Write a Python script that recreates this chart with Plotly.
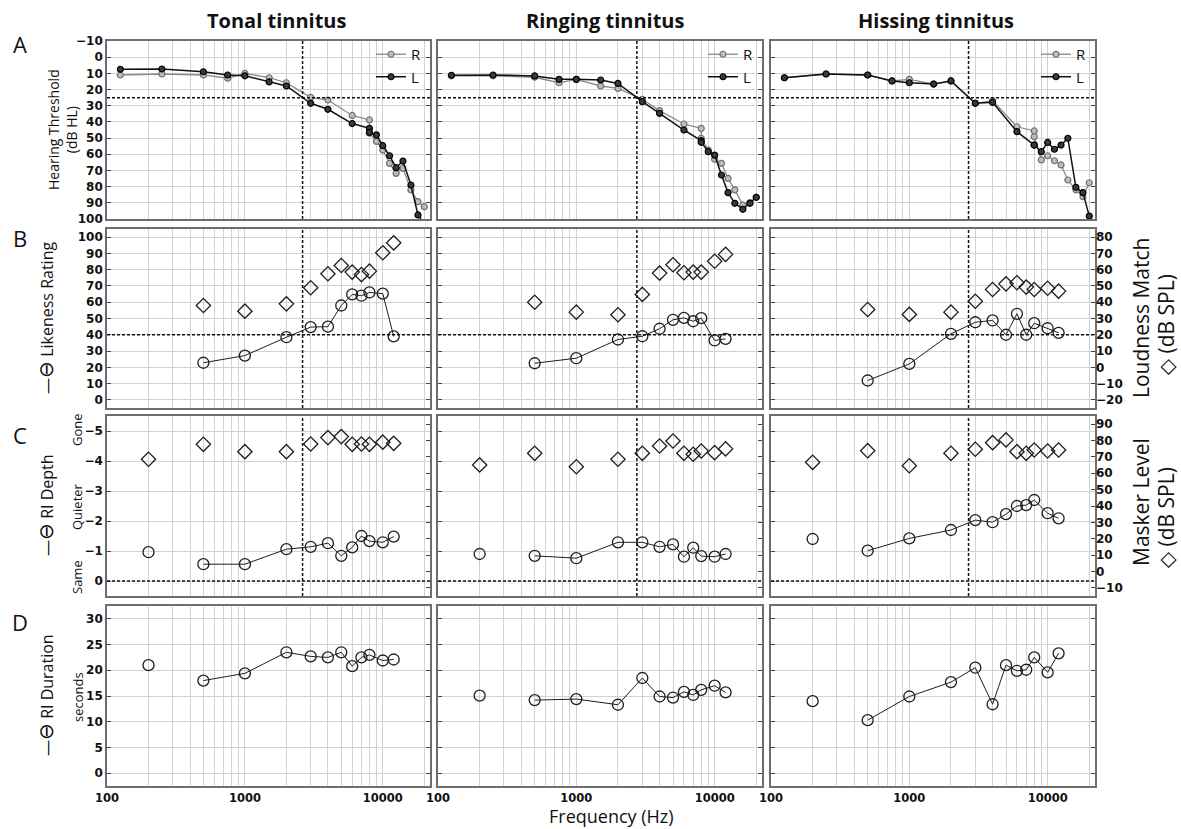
import math
import plotly.graph_objects as go

W, H = 1181, 829

# ---------------- data ----------------
col_titles = ["Tonal tinnitus", "Ringing tinnitus", "Hissing tinnitus"]

# Panel A: audiogram (standard + extended high frequency; 8000 Hz measured twice)
freq_audio = [125, 250, 500, 750, 1000, 1500, 2000, 3000, 4000, 6000,
              8000, 8000, 9000, 10000, 11200, 12500, 14000, 16000, 18000, 20000]
tonal_R = [11, 10.4, 11, 13, 10, 12.7, 15.8, 24.8, 26.5, 36,
           38.8, 47, 52, 57.4, 65.6, 71.8, 68.7, 82, 89.3, 92.4]
tonal_L = [7.5, 7.3, 9, 11, 11.5, 15.3, 17.8, 28.5, 32.2, 41,
           44, 46.5, 48, 54.7, 60.9, 68.3, 64.2, 79, 97.5, 103]
ringing_R = [11.5, 11.5, 12.4, 15.8, 13.7, 17.8, 19.3, 26, 33, 41.3,
             44, 50.1, 57.4, 63, 65.6, 74.9, 82, 91.4, 89.8, 86.6]
ringing_L = [11.2, 11, 11.6, 13.7, 13.7, 14.1, 16.2, 27.5, 34.7, 45,
             51.6, 52.6, 58.4, 60.5, 72.8, 83.7, 90.3, 94, 90.3, 86.6]
hissing_R = [12.7, 10.4, 11, 14.7, 13.7, 16.6, 14.7, 28.5, 26.9, 43,
             45.6, 49.1, 63.5, 60.9, 64, 66.6, 75.9, 82, 86.2, 77.6]
hissing_L = [12.7, 10.4, 11, 14.7, 15.8, 16.6, 14.7, 28.5, 27.9, 46,
             54.3, 54.3, 58.4, 52.7, 56.9, 54.3, 50.1, 80.4, 83.7, 98.2]

# Panels B-D: masker frequencies
freq_mask = [500, 1000, 2000, 3000, 4000, 5000, 6000, 7000, 8000, 10000, 12000]
freq_low = [200]   # isolated low-frequency masker (panels C, D)

# B: likeness rating (circles, left axis) and loudness match dB SPL (diamonds, right axis)
likeness = [
    [22.8, 27.2, 38.5, 44.7, 45, 58, 64.8, 64, 66, 65.3, 39],
    [22.5, 25.6, 37.1, 39.1, 43.7, 49.2, 50.4, 48.3, 50.2, 36.5, 37.5],
    [11.9, 22.1, 40.6, 47.7, 48.8, 40, 52.9, 40, 47.1, 44, 41.2],
]
loudness = [
    [38, 34.5, 39, 48.9, 57.5, 62.6, 58.5, 57, 59.1, 70.4, 76.5],
    [40, 33.9, 32.3, 44.8, 57.9, 63, 58.1, 58.5, 58.5, 65.2, 69.4],
    [35.5, 32.5, 33.9, 40.6, 47.8, 51.3, 52, 49.3, 47.8, 48.6, 46.8],
]

# C: residual inhibition depth (circles) and masker level dB SPL (diamonds)
ri_depth = [
    [-0.56, -0.56, -1.06, -1.14, -1.26, -0.84, -1.12, -1.5, -1.33, -1.29, -1.48],
    [-0.84, -0.76, -1.29, -1.29, -1.14, -1.22, -0.81, -1.11, -0.83, -0.81, -0.9],
    [-1.01, -1.42, -1.7, -2.03, -1.96, -2.23, -2.5, -2.53, -2.7, -2.26, -2.09],
]
ri_depth_low = [[-0.96], [-0.9], [-1.4]]
masker = [
    [77.7, 73.2, 73.2, 77.9, 81.8, 82.4, 77.7, 77.9, 77.7, 79, 78.3],
    [72.2, 64, 68.6, 72.2, 76.7, 79.7, 72.2, 71.6, 73.6, 72.6, 74.9],
    [73.8, 64.6, 72.2, 74.7, 78.7, 80.4, 73.2, 72.2, 74.2, 73.6, 74.2],
]
masker_low = [[68.6], [65.1], [66.7]]

# D: residual inhibition duration (seconds)
ri_dur = [
    [18.0, 19.4, 23.5, 22.7, 22.5, 23.5, 20.8, 22.5, 23.0, 21.9, 22.1],
    [14.2, 14.4, 13.3, 18.5, 14.9, 14.7, 15.8, 15.2, 16.2, 17.0, 15.7],
    [10.3, 14.9, 17.7, 20.5, 13.4, 21.0, 19.9, 20.1, 22.5, 19.6, 23.3],
]
ri_dur_low = [[21.0], [15.06], [14.0]]

# reference lines
edge_freq = [2620, 2740, 2680]
thr_ref = 25
like_ref = 40
depth_ref = 0

x_tickvals = [100, 200, 300, 400, 500, 600, 700, 800, 900,
              1000, 2000, 3000, 4000, 5000, 6000, 7000, 8000, 9000,
              10000, 20000]
x_ticktext = ["100"] + [""] * 8 + ["1000"] + [""] * 8 + ["10000", ""]

# ---------------- layout geometry ----------------
col_x = [(107, 430), (438, 762), (771, 1095)]
row_y = [(41, 219), (229, 408), (416, 596), (606, 786)]

def xd(c):
    return [col_x[c][0] / W, col_x[c][1] / W]

def yd(r):
    return [1 - row_y[r][1] / H, 1 - row_y[r][0] / H]

GRID = "#d2d2d2"
FRAME = "#6e6e6e"
TICKFONT = dict(family="DejaVu Sans", size=12, color="#111", weight="bold")
XTICKFONT = dict(family="DejaVu Sans", size=11.5, color="#111", weight="bold")
LBL = "Open Sans"

fig = go.Figure()
layout = dict(width=W, height=H,
              margin=dict(l=0, r=0, t=0, b=0, pad=0, autoexpand=False),
              paper_bgcolor="white", plot_bgcolor="white",
              showlegend=True)

def ax_name(idx):
    return "" if idx == 1 else str(idx)

y_specs = [
    dict(range=[100, -10], tickvals=list(range(-10, 101, 10))),
    dict(range=[-5, 105], tickvals=list(range(0, 101, 10))),
    dict(range=[0.5, -5.5], tickvals=[-5, -4, -3, -2, -1, 0]),
    dict(range=[-2.5, 32.5], tickvals=[0, 5, 10, 15, 20, 25, 30]),
]
right_specs = {
    1: dict(range=[-25, 85], tickvals=list(range(-20, 81, 10))),
    2: dict(range=[-15, 95], tickvals=list(range(-10, 91, 10))),
}

shapes = []
for r in range(4):
    for c in range(3):
        idx = r * 3 + c + 1
        n = ax_name(idx)
        layout["xaxis" + n] = dict(
            type="log", domain=xd(c), anchor="y" + n,
            range=[2, math.log10(22000)],
            tickvals=x_tickvals, ticktext=x_ticktext,
            showticklabels=(r == 3), tickfont=XTICKFONT, ticks="",
            showgrid=True, gridcolor=GRID, gridwidth=1,
            showline=True, linecolor=FRAME, linewidth=1.6, mirror=True,
            zeroline=False, automargin=False,
        )
        ys = y_specs[r]
        layout["yaxis" + n] = dict(
            domain=yd(r), anchor="x" + n, range=ys["range"],
            tickvals=ys["tickvals"], showticklabels=(c == 0),
            tickfont=TICKFONT, ticks="inside", ticklen=4, tickcolor="#444",
            showgrid=True, gridcolor=GRID, gridwidth=1,
            showline=True, linecolor=FRAME, linewidth=1.6,
            mirror=("ticks" if r in (0, 3) else True),
            zeroline=False, automargin=False,
        )
        if r in (1, 2):
            ridx = 12 + (r - 1) * 3 + c + 1
            rs = right_specs[r]
            layout["yaxis" + str(ridx)] = dict(
                overlaying="y" + n, side="right", anchor="x" + n,
                range=rs["range"], tickvals=rs["tickvals"],
                showticklabels=(c == 2), tickfont=TICKFONT,
                ticks="inside", ticklen=4, tickcolor="#444",
                showgrid=False, showline=False, zeroline=False,
                automargin=False,
            )
        # reference lines
        dot = dict(color="#111", width=1.5, dash="3px,2px")
        if r < 3:
            shapes.append(dict(type="line", xref="x" + n, yref="y" + n + " domain",
                               x0=edge_freq[c], x1=edge_freq[c], y0=0, y1=1, line=dot))
        ref_val = [thr_ref, like_ref, depth_ref, None][r]
        if ref_val is not None:
            shapes.append(dict(type="line", xref="x" + n + " domain", yref="y" + n,
                               x0=0, x1=1, y0=ref_val, y1=ref_val, line=dot))

# ---------------- traces ----------------
audio_R = [tonal_R, ringing_R, hissing_R]
audio_L = [tonal_L, ringing_L, hissing_L]
LINE = "#1e1e1e"

for c in range(3):
    lg = "legend" if c == 0 else "legend" + str(c + 1)
    n = ax_name(c + 1)
    fig.add_trace(go.Scatter(
        x=freq_audio, y=audio_R[c], mode="lines+markers", name="R",
        xaxis="x" + n, yaxis="y" + n, legend=lg,
        line=dict(color="#8a8a8a", width=1.3),
        marker=dict(symbol="circle", size=6, color="#bdbdbd",
                    line=dict(color="#707070", width=1.2))))
    fig.add_trace(go.Scatter(
        x=freq_audio, y=audio_L[c], mode="lines+markers", name="L",
        xaxis="x" + n, yaxis="y" + n, legend=lg,
        line=dict(color="#111", width=1.5),
        marker=dict(symbol="circle", size=6, color="#3a3a3a",
                    line=dict(color="#000", width=1.2))))

    circ = dict(symbol="circle-open", size=11, color=LINE, line=dict(width=1.3))
    diam = dict(symbol="diamond-open", size=11, color=LINE, line=dict(width=1.3))

    # B
    nb = ax_name(3 + c + 1)
    rb = str(12 + c + 1)
    fig.add_trace(go.Scatter(x=freq_mask, y=likeness[c], mode="lines+markers",
                             xaxis="x" + nb, yaxis="y" + nb, showlegend=False,
                             line=dict(color=LINE, width=1), marker=circ))
    fig.add_trace(go.Scatter(x=freq_mask, y=loudness[c], mode="markers",
                             xaxis="x" + nb, yaxis="y" + rb, showlegend=False,
                             marker=diam))
    # C
    nc = ax_name(6 + c + 1)
    rc = str(15 + c + 1)
    fig.add_trace(go.Scatter(x=freq_mask, y=ri_depth[c], mode="lines+markers",
                             xaxis="x" + nc, yaxis="y" + nc, showlegend=False,
                             line=dict(color=LINE, width=1), marker=circ))
    fig.add_trace(go.Scatter(x=freq_low, y=ri_depth_low[c], mode="markers",
                             xaxis="x" + nc, yaxis="y" + nc, showlegend=False,
                             marker=circ))
    fig.add_trace(go.Scatter(x=freq_low + freq_mask, y=masker_low[c] + masker[c],
                             mode="markers", xaxis="x" + nc, yaxis="y" + rc,
                             showlegend=False, marker=diam))
    # D
    nd = ax_name(9 + c + 1)
    fig.add_trace(go.Scatter(x=freq_mask, y=ri_dur[c], mode="lines+markers",
                             xaxis="x" + nd, yaxis="y" + nd, showlegend=False,
                             line=dict(color=LINE, width=1), marker=circ))
    fig.add_trace(go.Scatter(x=freq_low, y=ri_dur_low[c], mode="markers",
                             xaxis="x" + nd, yaxis="y" + nd, showlegend=False,
                             marker=circ))

    layout[lg] = dict(x=(col_x[c][1] - 4) / W, y=1 - 38 / H,
                      xanchor="right", yanchor="top",
                      bgcolor="rgba(0,0,0,0)", borderwidth=0,
                      font=dict(family=LBL, size=15, color="#111"),
                      tracegroupgap=0, itemwidth=30)

# ---------------- annotations ----------------
ann = []
def A(text, x, y, size, angle=0, bold=False, color="#111"):
    ann.append(dict(text=text, x=x / W, y=1 - y / H, xref="paper", yref="paper",
                    showarrow=False, textangle=angle, xanchor="center", yanchor="middle",
                    borderpad=0,
                    font=dict(family=LBL, size=size, color=color,
                              weight=("bold" if bold else "normal"))))

title_x = [276, 605, 936]
for c in range(3):
    A(col_titles[c], title_x[c], 21, 20, bold=True)

for letter, yy in zip("ABCD", [44, 238, 435, 622]):
    A(letter, 20, yy, 22)

SYM = "—<span style='font-size:20px'>⊖</span> "
A("Hearing Threshold<br>(dB HL)", 62, 130, 14, angle=-90)
A(SYM + "Likeness Rating", 45, 318, 16, angle=-90)
A(SYM + "RI Depth", 45, 505, 16, angle=-90)
A("Gone", 77, 430, 13, angle=-90)
A("Quieter", 77, 507, 13, angle=-90)
A("Same", 77, 577, 13, angle=-90)
A(SYM + "RI Duration", 45, 695, 16, angle=-90)
A("seconds", 78, 697, 13, angle=-90)

A("Loudness Match", 1141, 318, 21, angle=-90)
A("◇ (dB SPL)", 1166, 325, 21, angle=-90)
A("Masker Level", 1141, 502, 21, angle=-90)
A("◇ (dB SPL)", 1166, 518, 21, angle=-90)

A("Frequency (Hz)", 611, 816, 18)

layout["annotations"] = ann
layout["shapes"] = shapes
fig.update_layout(**layout)

fig.write_html("out.html", config={"displayModeBar": False},
               post_script="document.body.style.margin='0px';document.body.style.overflow='hidden';")
